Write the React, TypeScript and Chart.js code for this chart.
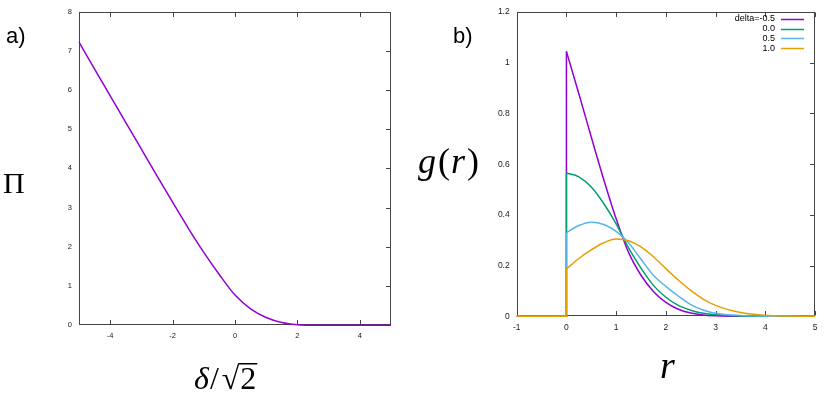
import React, { useEffect, useRef } from "react";
import { Chart, registerables } from "chart.js";

Chart.register(...registerables);

// ---------- Panel a: Pi vs delta/sqrt(2) ----------
const deltaX = [-5, -4.5, -4, -3.5, -3, -2.5, -2, -1.5, -1, -0.5, 0, 0.5, 1, 1.5, 2, 2.5, 3, 3.5, 4, 4.5, 5];
const piValues = [7.22, 6.53, 5.85, 5.17, 4.49, 3.81, 3.14, 2.48, 1.86, 1.29, 0.77, 0.42, 0.2, 0.07, 0.015, 0.002, 0, 0, 0, 0, 0];
const piTicksX = [-4, -2, 0, 2, 4];
const piTicksY = [0, 1, 2, 3, 4, 5, 6, 7, 8];

// ---------- Panel b: g(r) ----------
const rValues = [0, 0.25, 0.5, 0.75, 1, 1.25, 1.5, 1.75, 2, 2.25, 2.5, 2.75, 3, 3.5, 4, 4.5, 5];
const gDeltaM05 = [1.045, 0.878, 0.707, 0.54, 0.385, 0.252, 0.162, 0.098, 0.055, 0.028, 0.013, 0.005, 0.002, 0, 0, 0, 0];
const gDelta00 = [0.565, 0.55, 0.51, 0.445, 0.365, 0.27, 0.19, 0.122, 0.075, 0.043, 0.024, 0.012, 0.006, 0.001, 0, 0, 0];
const gDelta05 = [0.33, 0.358, 0.371, 0.362, 0.335, 0.29, 0.225, 0.162, 0.118, 0.08, 0.046, 0.025, 0.012, 0.003, 0.0005, 0, 0];
const gDelta10 = [0.187, 0.228, 0.262, 0.29, 0.305, 0.298, 0.274, 0.235, 0.188, 0.143, 0.102, 0.068, 0.043, 0.015, 0.004, 0.001, 0];
const seriesValues = [gDeltaM05, gDelta00, gDelta05, gDelta10];
const seriesLabels = ["delta=-0.5", "0.0", "0.5", "1.0"];
const seriesColors = ["#9400D3", "#009E73", "#56B4E9", "#E69F00"];
const gTicksX = [-1, 0, 1, 2, 3, 4, 5];
const gTicksY = [0, 0.2, 0.4, 0.6, 0.8, 1, 1.2];

const SANS = "'Liberation Sans', Arial, Helvetica, sans-serif";
const SERIF = "'Liberation Serif', 'DejaVu Serif', 'Times New Roman', serif";
const FRAME = "#444444";
const TICKTXT = "#1a1a1a";

function framePlugin(tickLen: number) {
  return {
    id: "frameTicks",
    beforeDatasetsDraw(chart: any) {
      const { ctx, chartArea: a, scales } = chart;
      const l = Math.round(a.left) + 0.5;
      const r = Math.round(a.right) - 0.5;
      const t = Math.round(a.top) + 0.5;
      const b = Math.round(a.bottom) - 0.5;
      ctx.save();
      ctx.strokeStyle = FRAME;
      ctx.lineWidth = 1;
      ctx.strokeRect(l, t, r - l, b - t);
      ctx.beginPath();
      scales.x.ticks.forEach((tk: any) => {
        const px = Math.round(scales.x.getPixelForValue(tk.value)) + 0.5;
        ctx.moveTo(px, b);
        ctx.lineTo(px, b - tickLen);
        ctx.moveTo(px, t);
        ctx.lineTo(px, t + tickLen);
      });
      scales.y.ticks.forEach((tk: any) => {
        const py = Math.round(scales.y.getPixelForValue(tk.value)) + 0.5;
        ctx.moveTo(r, py);
        ctx.lineTo(r - tickLen, py);
      });
      ctx.stroke();
      ctx.restore();
    },
  };
}

function textPlugin(draw: (ctx: CanvasRenderingContext2D) => void) {
  return {
    id: "texts",
    afterDraw(chart: any) {
      const ctx = chart.ctx as CanvasRenderingContext2D;
      ctx.save();
      draw(ctx);
      ctx.restore();
    },
  };
}

function drawPanelAText(ctx: CanvasRenderingContext2D) {
  ctx.fillStyle = "#000";
  ctx.textBaseline = "alphabetic";
  ctx.textAlign = "left";
  ctx.font = `22px ${SANS}`;
  ctx.fillText("a)", 6, 43);
  ctx.font = `30px ${SERIF}`;
  ctx.fillText("Π", 3, 193);
  // delta / sqrt(2)
  const base = 389;
  let x = 194;
  ctx.font = `italic 32px ${SERIF}`;
  ctx.fillText("δ", x, base);
  x += ctx.measureText("δ").width + 1;
  ctx.font = `32px ${SERIF}`;
  ctx.fillText("/", x, base);
  x += ctx.measureText("/").width + 3;
  ctx.fillText("√", x, base);
  const m = ctx.measureText("√");
  const top = base - m.actualBoundingBoxAscent;
  x += m.width;
  ctx.fillText("2", x + 1, base);
  const w2 = ctx.measureText("2").width;
  ctx.fillRect(x - 1, top, w2 + 3, 1.5);
}

function drawPanelBText(ctx: CanvasRenderingContext2D) {
  const ox = 400;
  ctx.fillStyle = "#000";
  ctx.textBaseline = "alphabetic";
  ctx.textAlign = "left";
  ctx.font = `22px ${SANS}`;
  ctx.fillText("b)", 453 - ox, 43);
  ctx.font = `italic 36px ${SERIF}`;
  ctx.fillText("g", 418 - ox, 173);
  ctx.font = `36px ${SERIF}`;
  const gw = 20;
  ctx.fillText("(", 418 - ox + gw, 173);
  ctx.font = `italic 36px ${SERIF}`;
  ctx.fillText("r", 418 - ox + gw + 13, 173);
  ctx.font = `36px ${SERIF}`;
  ctx.fillText(")", 418 - ox + gw + 13 + 16, 173);
  ctx.font = `italic 38px ${SERIF}`;
  ctx.fillText("r", 660 - ox, 378);
  // legend
  ctx.font = `9px ${SANS}`;
  ctx.textAlign = "right";
  ctx.textBaseline = "middle";
  seriesLabels.forEach((lab, i) => {
    const y = 19 + i * 9.7;
    ctx.fillStyle = "#000";
    ctx.fillText(lab, 775 - ox, y);
    ctx.strokeStyle = seriesColors[i];
    ctx.lineWidth = 1.5;
    ctx.beginPath();
    ctx.moveTo(781 - ox, Math.round(y) + 0.5);
    ctx.lineTo(804 - ox, Math.round(y) + 0.5);
    ctx.stroke();
  });
}

function axisCommon(size: number, tickValues: number[]) {
  return {
    grid: { display: false, drawTicks: false },
    border: { display: false },
    afterBuildTicks: (s: any) => {
      s.ticks = tickValues.map((v) => ({ value: v }));
    },
    ticks: {
      color: TICKTXT,
      font: { family: SANS, size },
      autoSkip: false,
      maxRotation: 0,
      callback: (v: any) => String(Math.round(Number(v) * 10) / 10),
    },
  };
}

export default function App() {
  const refA = useRef<HTMLCanvasElement | null>(null);
  const refB = useRef<HTMLCanvasElement | null>(null);

  useEffect(() => {
    const axAx = axisCommon(7.5, piTicksX);
    const axAy = axisCommon(7.5, piTicksY);
    const chartA = new Chart(refA.current as HTMLCanvasElement, {
      type: "line",
      data: {
        datasets: [
          {
            data: deltaX.map((x, i) => ({ x, y: piValues[i] })),
            borderColor: "#9400D3",
            borderWidth: 1.5,
            pointRadius: 0,
            cubicInterpolationMode: "monotone",
            clip: 3,
          } as any,
        ],
      },
      options: {
        animation: false,
        responsive: false,
        events: [],
        layout: { padding: { top: 10.7, right: 9, left: 0, bottom: 0 } },
        plugins: { legend: { display: false }, tooltip: { enabled: false } },
        scales: {
          x: {
            type: "linear",
            min: -5,
            max: 5,
            ...axAx,
            ticks: { ...axAx.ticks, padding: 6 },
            afterFit: (s: any) => {
              s.height = 72.7;
            },
          },
          y: {
            type: "linear",
            min: 0,
            max: 8,
            ...axAy,
            ticks: { ...axAy.ticks, padding: 7 },
            afterFit: (s: any) => {
              s.width = 79;
            },
          },
        },
      } as any,
      plugins: [framePlugin(4.5), textPlugin(drawPanelAText)],
    });

    const axBx = axisCommon(8.5, gTicksX);
    const axBy = axisCommon(8.5, gTicksY);
    const datasetsB: any[] = [];
    seriesValues.forEach((vals, i) => {
      datasetsB.push({
        label: seriesLabels[i],
        data: rValues.map((x, j) => ({ x, y: vals[j] })),
        borderColor: seriesColors[i],
        borderWidth: 1.5,
        pointRadius: 0,
        cubicInterpolationMode: "monotone",
        order: 4 - i,
        clip: 3,
      });
      datasetsB.push({
        label: "",
        data: [
          { x: gTicksX[0], y: 0 },
          { x: rValues[0], y: 0 },
          { x: rValues[0], y: vals[0] },
        ],
        borderColor: seriesColors[i],
        borderWidth: 1.5,
        pointRadius: 0,
        tension: 0,
        order: 4 - i,
        clip: 3,
      });
    });

    const chartB = new Chart(refB.current as HTMLCanvasElement, {
      type: "line",
      data: { datasets: datasetsB },
      options: {
        animation: false,
        responsive: false,
        events: [],
        layout: { padding: { top: 8.3, right: 15, left: 0, bottom: 0 } },
        plugins: { legend: { display: false }, tooltip: { enabled: false } },
        scales: {
          x: {
            type: "linear",
            min: -1,
            max: 5,
            ...axBx,
            ticks: { ...axBx.ticks, padding: 6 },
            afterFit: (s: any) => {
              s.height = 81.7;
            },
          },
          y: {
            type: "linear",
            min: 0,
            max: 1.2,
            ...axBy,
            ticks: { ...axBy.ticks, padding: 7 },
            afterFit: (s: any) => {
              s.width = 116.7;
            },
          },
        },
      } as any,
      plugins: [framePlugin(4.5), textPlugin(drawPanelBText)],
    });

    return () => {
      chartA.destroy();
      chartB.destroy();
    };
  }, []);

  return (
    <div
      style={{
        position: "absolute",
        left: 0,
        top: 0,
        width: 830,
        height: 398,
        background: "#fff",
        overflow: "hidden",
      }}
    >
      <canvas
        ref={refA}
        width={400}
        height={398}
        style={{ position: "absolute", left: 0, top: 0, width: 400, height: 398, display: "block" }}
      />
      <canvas
        ref={refB}
        width={430}
        height={398}
        style={{ position: "absolute", left: 400, top: 0, width: 430, height: 398, display: "block" }}
      />
    </div>
  );
}
